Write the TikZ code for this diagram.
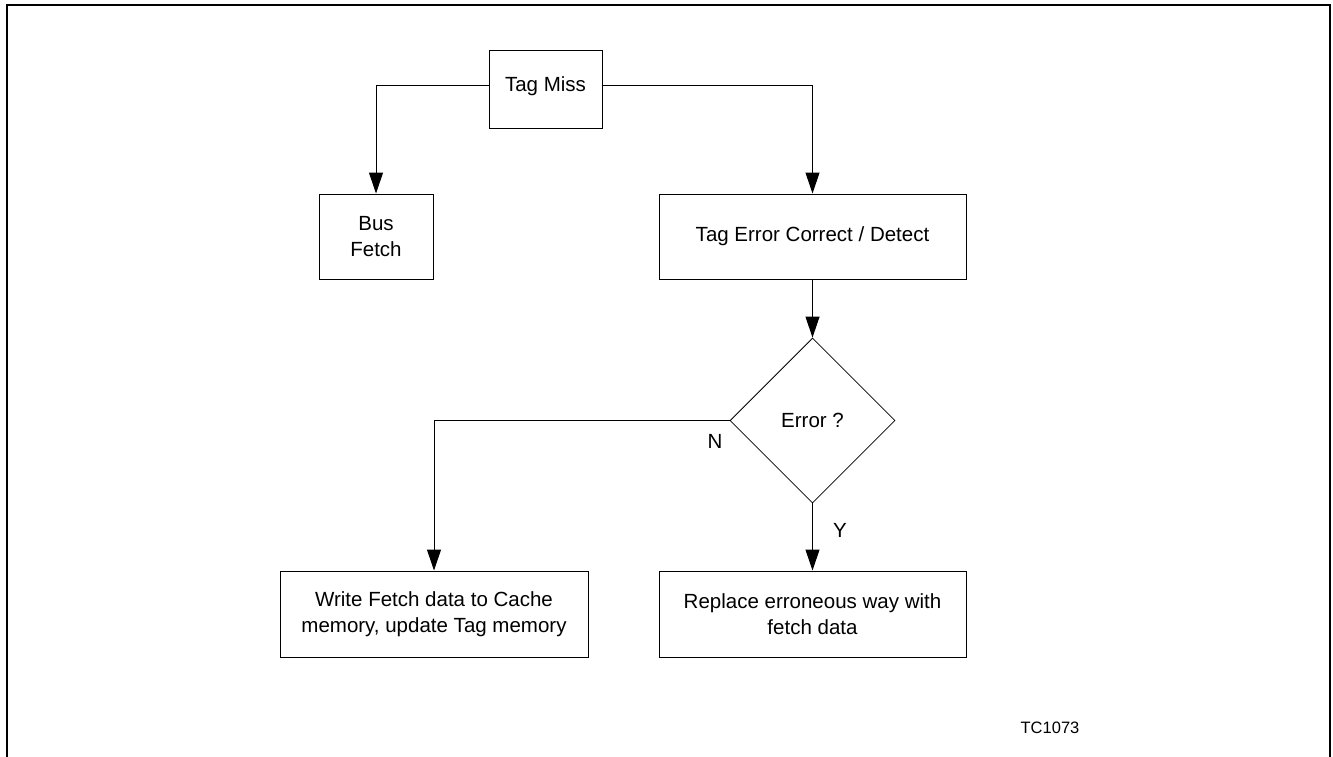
\documentclass[tikz,border=0pt]{standalone}
\usepackage{fontspec}
\setmainfont{Liberation Sans}
\usetikzlibrary{arrows.meta,shapes.geometric}
\begin{document}
\begin{tikzpicture}[x=1pt,y=-1pt,
  box/.style={draw,line width=1pt,inner sep=0pt,align=center,font=\fontsize{20.5}{25.5}\selectfont},
  lbl/.style={font=\fontsize{20.5}{25.5}\selectfont,inner sep=0pt},
  conn/.style={line width=1pt,-{Triangle[length=21pt,width=14pt]}}]
\useasboundingbox (0,0) rectangle (1333,756);
\draw[line width=2pt] (7,760) -- (7,5) -- (1330,5) -- (1330,760);
\node[box,minimum width=113pt,minimum height=78pt,text height=15pt,text depth=10pt] (miss) at (545.5,89) {Tag Miss};
\node[box,minimum width=114pt,minimum height=85pt] (bus) at (376,236.5) {Bus\\Fetch};
\node[box,minimum width=307pt,minimum height=85pt] (tec) at (812.5,236.5) {Tag Error Correct / Detect};
\node[draw,line width=0.8pt,diamond,aspect=1,minimum width=165pt,minimum height=165pt,inner sep=0pt,font=\fontsize{20.5}{25.5}\selectfont] (err) at (812.5,420.5) {Error ?};
\node[box,minimum width=308pt,minimum height=86pt] (write) at (434,614) {Write Fetch data to Cache\\memory, update Tag memory};
\node[box,minimum width=307pt,minimum height=86pt] (repl) at (812.5,614) {Replace erroneous way with\\fetch data};
\coordinate (m1) at (miss.west |- 0,85);
\coordinate (m2) at (miss.east |- 0,85);
\draw[conn] (m1) -| (bus.north);
\draw[conn] (m2) -| (tec.north);
\draw[conn] (tec.south) -- (err.north);
\draw[conn] (err.west) -| (write.north);
\draw[conn] (err.south) -- (repl.north);
\node[lbl] (n) at (715,441) {N};
\node[lbl] (y) at (840,530) {Y};
\node[lbl,font=\fontsize{16.5}{20}\selectfont] (tc) at (1050,728) {TC1073};
\end{tikzpicture}
\end{document}
